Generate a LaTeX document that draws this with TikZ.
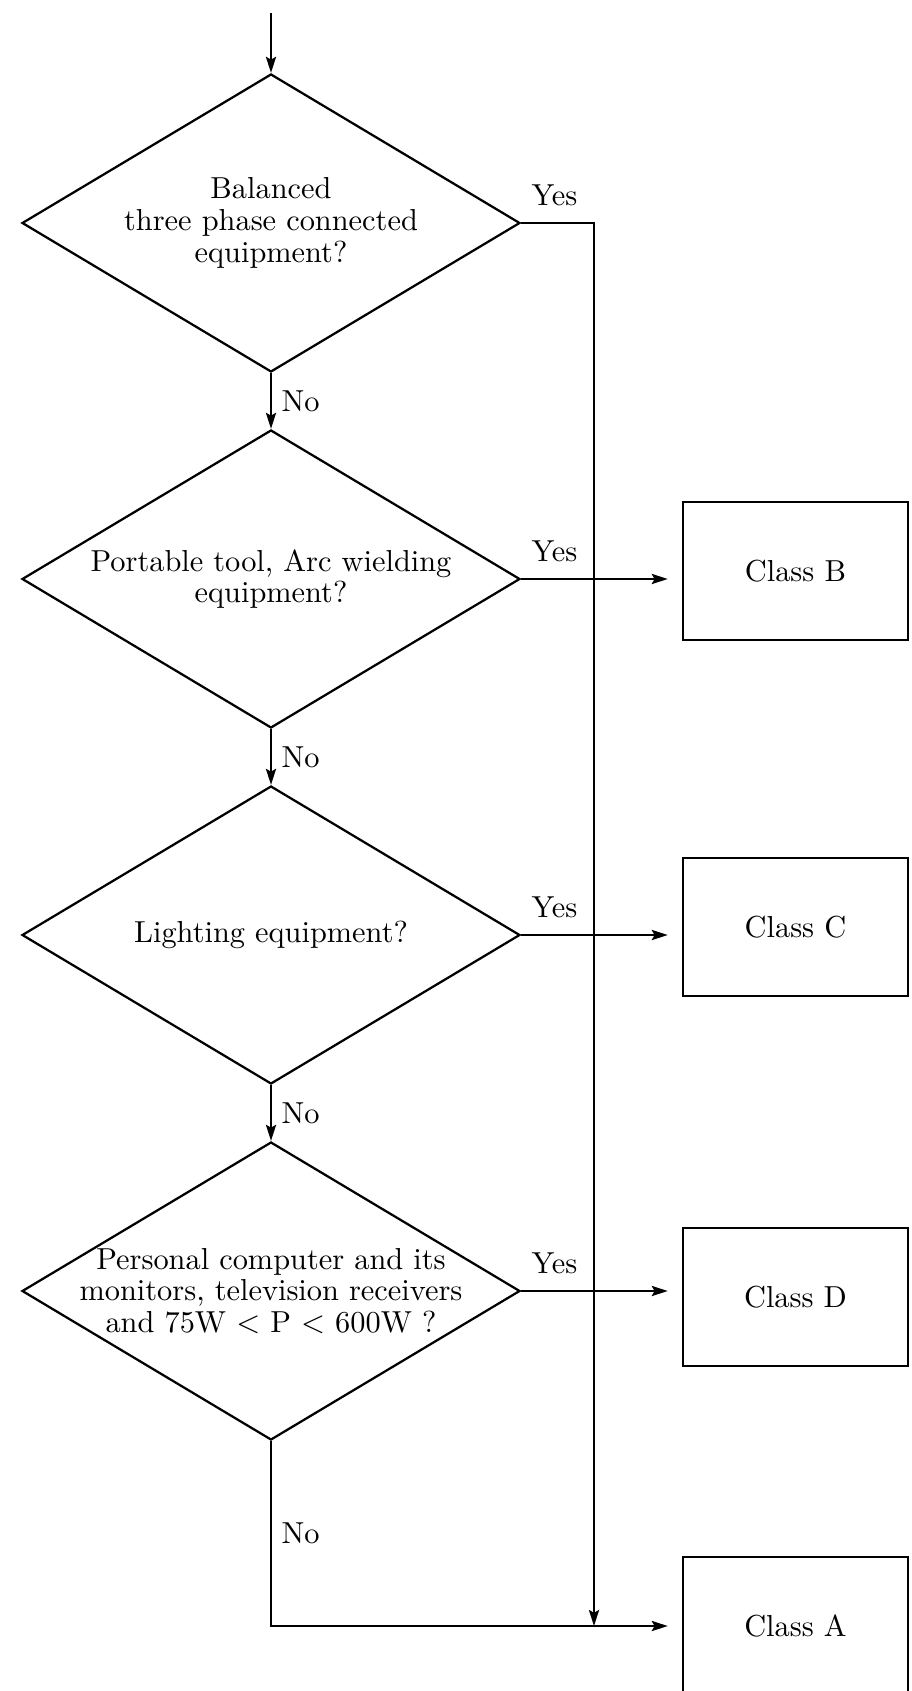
\documentclass[tikz,border=0pt]{standalone}
\usetikzlibrary{arrows.meta,shapes.geometric}

\begin{document}
\begin{tikzpicture}[->,>={Stealth[length=5.7pt,width=3.6pt,inset=1pt]},shorten >=0pt,auto,node distance=4.45cm,
        thick,font=\fontsize{10.8}{11.3}\selectfont,
        test node/.style={diamond,draw,minimum width=6.225cm,minimum height=3.725cm,inner sep=0pt},
        class node/.style={rectangle,draw,minimum width=2.8125cm,minimum height=1.725cm},
        to class/.style={shorten >=5pt},
        yes/.style={pos=0,above right,yshift=2.5pt}]
        \useasboundingbox (0,0) rectangle (11.3875,-21.1375);

        \node[test node,label={[align=center]center:Balanced\\three phase connected\\equipment?}] (1) at (3.3875,-2.7875) {};
        \node[test node,label={[align=center]center:{Portable tool, Arc wielding\\equipment?}}] (2) [below of=1] {};
        \node[test node,label={[align=center]center:Lighting equipment?}] (3) [below of=2] {};
        \node[test node,label={[align=center]center:{Personal computer and its\\monitors, television receivers\\and 75W $<$ P $<$ 600W ?}}] (4) [below of=3] {};

        \node[class node,right of=2,node distance=6.556cm,yshift=0.1cm] (B) {Class B};
        \node[class node,right of=3,node distance=6.556cm,yshift=0.1cm] (C) {Class C};
        \node[class node,right of=4,node distance=6.556cm,yshift=-0.075cm] (D) {Class D};
        \node[class node,right of=4,node distance=6.556cm,yshift=-4.1875cm] (A) {Class A};

        \coordinate (in) at ([yshift=0.75cm]1.north);
        \coordinate (trunk) at ([xshift=4.0375cm]1.center);

        \draw (in) -- (1);
        \draw (1.east) -- node[yes] {Yes} (trunk) -- (trunk |- A.west);

        \path
        (1) edge node [right] {No} (2)
        (2) edge node [right] {No} (3)
        (3) edge node [right] {No} (4)
        (2.east) edge [to class] node [yes] {Yes} (2.east -| B.west)
        (3.east) edge [to class] node [yes] {Yes} (3.east -| C.west)
        (4.east) edge [to class] node [yes] {Yes} (4.east -| D.west);

        \draw[to class] (4) |- node [right,pos=0.25] {No} (A.west);
      \end{tikzpicture}
\end{document}
